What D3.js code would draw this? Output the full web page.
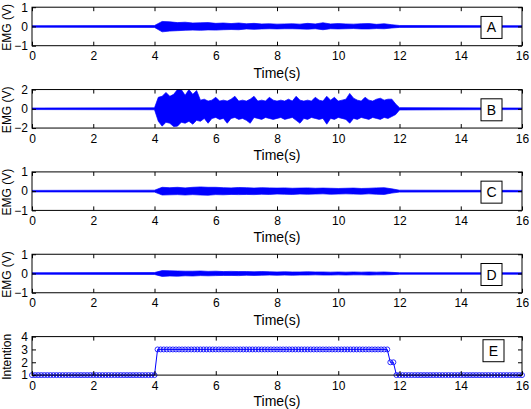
<!DOCTYPE html>
<html>
<head>
<meta charset="utf-8">
<script src="https://cdn.jsdelivr.net/npm/d3@7"></script>
<style>
  body { margin: 0; background: #fff; }
  text { font-family: "Liberation Sans", Arial, Helvetica, sans-serif; }
</style>
</head>
<body>
<svg id="chart" width="531" height="409"></svg>
<script>
// x axis ticks (seconds)
const timeTicks = [0, 2, 4, 6, 8, 10, 12, 14, 16];

// EMG envelopes, active part only (4 s .. 12 s)
// channel A, every 0.25 s
const emgAUpper = [0.05, 0.26, 0.24, 0.2, 0.22, 0.18, 0.19, 0.2, 0.16, 0.18, 0.15, 0.18, 0.14, 0.16, 0.13, 0.14, 0.12,
  0.13, 0.14, 0.12, 0.16, 0.13, 0.19, 0.13, 0.15, 0.13, 0.12, 0.14, 0.15, 0.11, 0.14, 0.09, 0.05];
const emgALower = [-0.05, -0.28, -0.24, -0.22, -0.2, -0.19, -0.2, -0.18, -0.19, -0.17, -0.16, -0.17, -0.13, -0.15, -0.13, -0.12, -0.13,
  -0.12, -0.12, -0.13, -0.14, -0.12, -0.17, -0.12, -0.13, -0.12, -0.11, -0.13, -0.13, -0.11, -0.12, -0.08, -0.05];

// channel B, every 0.125 s
const emgBUpper = [0.1, 1.2, 1.3, 1.7, 1.3, 1.5, 2.0, 2.0, 1.4, 2.0, 1.5, 1.9, 0.9, 1.0, 0.8, 0.9,
  1.2, 0.8, 0.9, 0.8, 1.0, 1.3, 0.8, 0.9, 0.8, 1.0, 1.3, 0.8, 0.9, 0.8, 1.2, 0.9,
  0.8, 0.9, 0.8, 1.0, 0.8, 1.3, 0.9, 0.8, 0.9, 0.8, 1.2, 0.9, 0.8, 1.3, 0.9, 1.2,
  0.8, 0.9, 1.0, 1.6, 1.1, 0.9, 0.8, 1.2, 0.9, 0.8, 1.0, 1.1, 0.9, 1.0, 1.0, 0.5, 0.12];
const emgBLower = [-0.1, -1.3, -1.8, -1.4, -1.5, -1.85, -1.8, -1.4, -1.5, -1.3, -1.6, -1.2, -1.3, -1.0, -1.5, -1.0,
  -0.9, -1.1, -1.0, -1.5, -1.0, -0.9, -1.1, -1.0, -1.2, -1.5, -0.9, -1.0, -1.1, -0.9, -1.0, -1.1,
  -1.0, -0.9, -1.1, -1.0, -0.9, -1.2, -1.5, -1.0, -1.1, -0.9, -1.0, -1.1, -1.0, -1.6, -1.0, -1.1,
  -0.9, -1.0, -1.1, -1.5, -1.0, -1.1, -0.9, -1.0, -1.1, -0.9, -1.0, -1.1, -0.9, -1.0, -0.8, -0.6, -0.12];

// channel C, every 0.25 s
const emgCUpper = [0.05, 0.2, 0.18, 0.2, 0.17, 0.2, 0.22, 0.2, 0.2, 0.18, 0.17, 0.19, 0.18, 0.16, 0.18, 0.17, 0.16,
  0.17, 0.15, 0.16, 0.17, 0.15, 0.16, 0.15, 0.14, 0.15, 0.16, 0.14, 0.15, 0.17, 0.18, 0.12, 0.05];
const emgCLower = [-0.05, -0.2, -0.19, -0.18, -0.2, -0.18, -0.2, -0.21, -0.18, -0.19, -0.17, -0.18, -0.17, -0.18, -0.16, -0.17, -0.15,
  -0.16, -0.17, -0.15, -0.16, -0.15, -0.14, -0.16, -0.15, -0.14, -0.15, -0.16, -0.14, -0.16, -0.17, -0.1, -0.05];

// channel D, every 0.25 s
const emgDUpper = [0.05, 0.15, 0.14, 0.13, 0.12, 0.12, 0.13, 0.11, 0.12, 0.1, 0.11, 0.1, 0.1, 0.09, 0.1, 0.09, 0.08,
  0.09, 0.08, 0.08, 0.09, 0.08, 0.08, 0.07, 0.08, 0.07, 0.08, 0.07, 0.08, 0.07, 0.08, 0.06, 0.04];
const emgDLower = [-0.05, -0.15, -0.13, -0.14, -0.12, -0.13, -0.11, -0.12, -0.11, -0.1, -0.1, -0.11, -0.09, -0.1, -0.09, -0.08, -0.09,
  -0.08, -0.09, -0.08, -0.08, -0.07, -0.08, -0.08, -0.07, -0.08, -0.07, -0.07, -0.08, -0.07, -0.07, -0.06, -0.04];

// intention, one sample every 0.1 s, as [count, value] runs
const intentionRuns = [[41, 1], [76, 3], [2, 2], [42, 1]];
const intentionTicks = [1, 2, 3, 4];

const panels = [
  { name: "A", upper: emgAUpper, lower: emgALower, step: 0.25, rest: 0.04, domain: [-1, 1], ticks: [-1, 0, 1] },
  { name: "B", upper: emgBUpper, lower: emgBLower, step: 0.125, rest: 0.08, domain: [-2, 2], ticks: [-2, 0, 2] },
  { name: "C", upper: emgCUpper, lower: emgCLower, step: 0.25, rest: 0.04, domain: [-1, 1], ticks: [-1, 0, 1] },
  { name: "D", upper: emgDUpper, lower: emgDLower, step: 0.25, rest: 0.04, domain: [-1, 1], ticks: [-1, 0, 1] },
  { name: "E", intention: true, domain: [1, 4], ticks: intentionTicks },
];

const activeStart = 4;
const blue = "#0000ff";
const left = 32, right = 522;
const panelH = 38.5;
const panelTop = (i) => 7.2 + i * 82.35;

const svg = d3.select("#chart");
const x = d3.scaleLinear().domain([0, 16]).range([left, right]);
const fmt = d3.format("d");

const setFont = (g, size) => g.attr("font-family", '"Liberation Sans", Arial, Helvetica, sans-serif').attr("font-size", size);

panels.forEach((p, i) => {
  const top = panelTop(i);
  const y = d3.scaleLinear().domain(p.domain).range([top + panelH, top]);
  const g = svg.append("g");

  g.append("clipPath").attr("id", "clip" + i)
    .append("rect").attr("x", left).attr("y", top).attr("width", right - left).attr("height", panelH);

  if (!p.intention) {
    const pts = [{ t: 0, u: p.rest, l: -p.rest }]
      .concat(p.upper.map((u, k) => ({ t: activeStart + k * p.step, u: u, l: p.lower[k] })))
      .concat([{ t: 16, u: p.rest, l: -p.rest }]);
    const area = d3.area()
      .x((d) => x(d.t))
      .y0((d) => y(d.l))
      .y1((d) => y(d.u));
    g.append("path")
      .attr("clip-path", `url(#clip${i})`)
      .attr("d", area(pts))
      .attr("fill", blue)
      .attr("stroke", blue)
      .attr("stroke-width", 0.7);
  } else {
    const vals = intentionRuns.flatMap(([n, v]) => Array(n).fill(v));
    const pts = vals.map((v, k) => ({ t: k * 0.1, v: v }));
    g.append("path")
      .attr("d", d3.line().x((d) => x(d.t)).y((d) => y(d.v))(pts))
      .attr("fill", "none")
      .attr("stroke", blue)
      .attr("stroke-width", 1);
    g.append("g")
      .selectAll("circle")
      .data(pts)
      .join("circle")
      .attr("cx", (d) => x(d.t))
      .attr("cy", (d) => y(d.v))
      .attr("r", 2.5)
      .attr("fill", "none")
      .attr("stroke", blue)
      .attr("stroke-width", 0.8);
  }

  // axes, ticks pointing inwards like matlab
  g.append("g")
    .attr("transform", `translate(0,${top + panelH})`)
    .call(d3.axisBottom(x).tickValues(timeTicks).tickFormat(fmt).tickSize(-4).tickSizeOuter(0).tickPadding(6))
    .call((a) => a.select(".domain").remove())
    .call((a) => setFont(a, 12));
  g.append("g")
    .attr("transform", `translate(0,${top})`)
    .call(d3.axisTop(x).tickValues(timeTicks).tickSize(-4).tickSizeOuter(0).tickFormat(""))
    .call((a) => a.select(".domain").remove());
  g.append("g")
    .attr("transform", `translate(${left},0)`)
    .call(d3.axisLeft(y).tickValues(p.ticks).tickFormat(fmt).tickSize(-4).tickSizeOuter(0).tickPadding(4))
    .call((a) => a.select(".domain").remove())
    .call((a) => setFont(a, 12));
  g.append("g")
    .attr("transform", `translate(${right},0)`)
    .call(d3.axisRight(y).tickValues(p.ticks).tickSize(-4).tickSizeOuter(0).tickFormat(""))
    .call((a) => a.select(".domain").remove());

  g.append("rect")
    .attr("x", left).attr("y", top)
    .attr("width", right - left).attr("height", panelH)
    .attr("fill", "none").attr("stroke", "#000").attr("stroke-width", 1);

  // panel letter box
  const bx = p.intention ? 483 : 481;
  const by = p.intention ? y(2.9) : y(0) + 1;
  g.append("rect")
    .attr("x", bx).attr("y", by - 11)
    .attr("width", 21).attr("height", 22)
    .attr("fill", "#fff").attr("stroke", "#000").attr("stroke-width", 1);
  g.append("text")
    .attr("x", bx + 10.5).attr("y", by + 5)
    .attr("text-anchor", "middle")
    .attr("font-size", 14)
    .text(p.name);

  g.append("text")
    .attr("x", (left + right) / 2).attr("y", Math.min(top + panelH + 32, 406.3))
    .attr("text-anchor", "middle")
    .attr("font-size", 14)
    .text("Time(s)");

  g.append("text")
    .attr("transform", `translate(11,${top + panelH / 2 + 1}) rotate(-90)`)
    .attr("text-anchor", "middle")
    .attr("font-size", 12)
    .text(p.intention ? "Intention" : "EMG (V)");
});
</script>
</body>
</html>
